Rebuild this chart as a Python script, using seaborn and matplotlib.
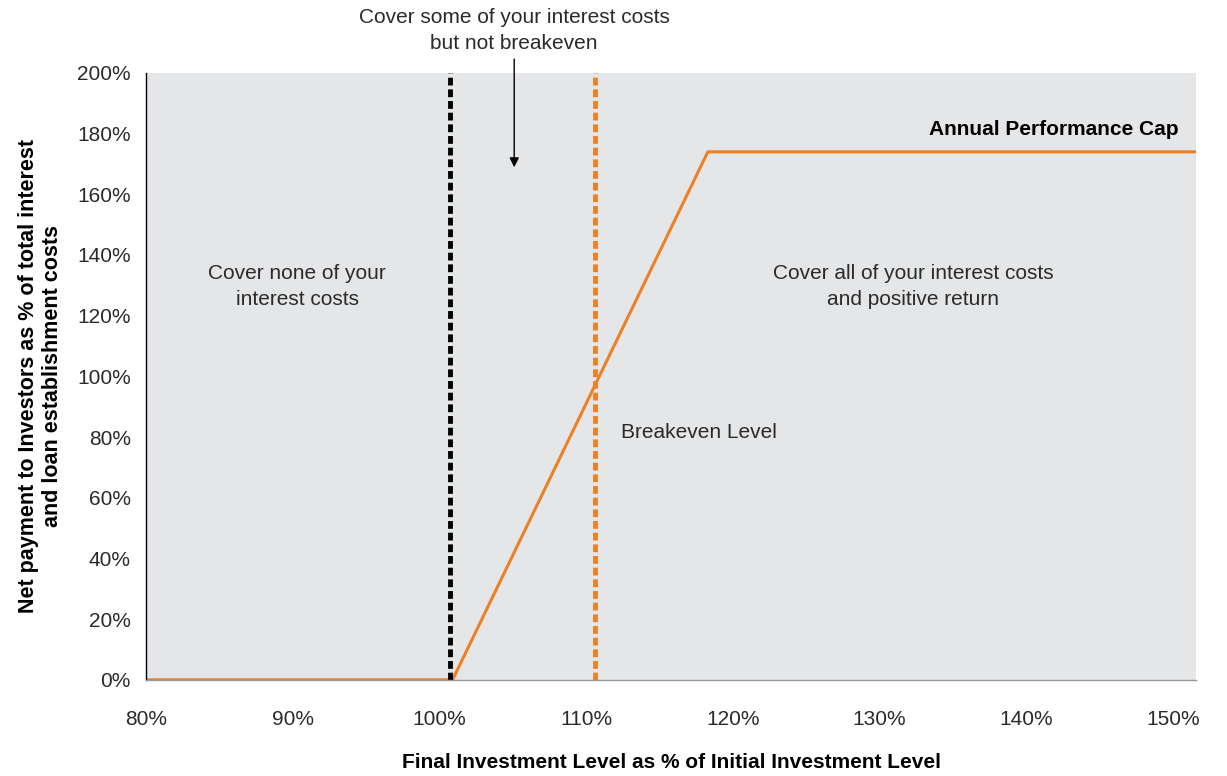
import numpy as np
import pandas as pd
import matplotlib
matplotlib.use("Agg")
import matplotlib.pyplot as plt
import seaborn as sns

# payoff profile (% of initial level -> % of costs)
final_level = [80.0, 100.9, 118.3, 151.6]
net_payment = [0.0, 0.0, 174.0, 174.0]

zero_cost_level = 100.7
breakeven_level = 110.6

x_ticks = [80, 90, 100, 110, 120, 130, 140, 150]
y_ticks = [0, 20, 40, 60, 80, 100, 120, 140, 160, 180, 200]

orange = "#EE8024"
text_col = "#2a2a2a"

sns.set_theme(style="white")
plt.rcParams["font.family"] = ["Liberation Sans", "DejaVu Sans"]

df = pd.DataFrame({"level": final_level, "payment": net_payment})

fig = plt.figure(figsize=(12.27, 7.76), dpi=100)
ax = fig.add_axes([0.119, 0.124, 0.856, 0.782])
ax.set_facecolor("#E5E6E8")

sns.lineplot(data=df, x="level", y="payment", ax=ax, color=orange, lw=2.2)

ax.axvline(zero_cost_level, color="black", lw=3.5, dashes=(1.6, 0.8))
ax.axvline(breakeven_level, color=orange, lw=3.5, dashes=(1.6, 0.8))

ax.set_xlim(80, 151.6)
ax.set_ylim(0, 200)
ax.set_xticks(x_ticks)
ax.set_xticklabels([f"{t}%" for t in x_ticks])
ax.set_yticks(y_ticks)
ax.set_yticklabels([f"{t}%" for t in y_ticks])
ax.set_yticks(np.linspace(0, 200, 7), minor=True)
ax.tick_params(axis="y", which="minor", length=3, width=2, color=orange, direction="inout")
ax.tick_params(axis="both", which="major", length=5, width=1, color="#555555",
               labelsize=15, labelcolor=text_col, direction="out")
ax.tick_params(axis="x", which="major", pad=17)
ax.tick_params(axis="y", which="major", pad=6)

for s in ["top", "right"]:
    ax.spines[s].set_visible(False)
ax.spines["left"].set_color("black")
ax.spines["left"].set_linewidth(1)
ax.spines["bottom"].set_color("#999999")
ax.spines["bottom"].set_linewidth(1)

ax.set_xlabel("Final Investment Level as % of Initial Investment Level",
              fontsize=15, fontweight="bold", color="black", labelpad=17)
ax.set_ylabel("Net payment to Investors as % of total interest\nand loan establishment costs",
              fontsize=15.5, fontweight="bold", color="black", labelpad=10)

ax.text(90.3, 129.5, "Cover none of your\ninterest costs", ha="center", va="center",
        fontsize=15, color=text_col, linespacing=1.45)
ax.text(132.3, 129.5, "Cover all of your interest costs\nand positive return", ha="center", va="center",
        fontsize=15, color=text_col, linespacing=1.45)
ax.text(112.4, 81.4, "Breakeven Level", ha="left", va="center", fontsize=15, color=text_col)
ax.text(150.4, 181.2, "Annual Performance Cap", ha="right", va="center",
        fontsize=15, fontweight="bold", color="black")

ax.annotate("", xy=(105.1, 168), xytext=(105.1, 205.5),
            arrowprops=dict(arrowstyle="-|>", color="black", lw=1, mutation_scale=14),
            annotation_clip=False)
ax.text(105.1, 214, "Cover some of your interest costs\nbut not breakeven", ha="center",
        va="center", fontsize=15, color=text_col, linespacing=1.45)

fig.savefig("out.png", dpi=100)
